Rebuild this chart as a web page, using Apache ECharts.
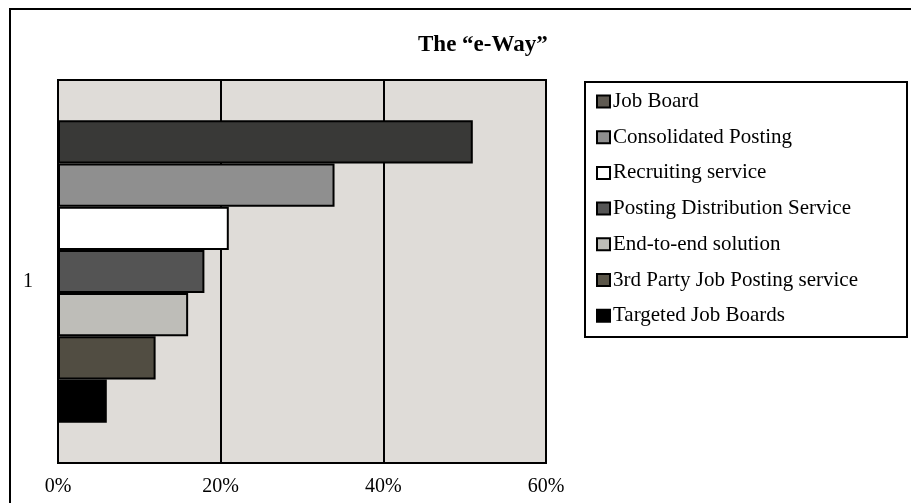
<!DOCTYPE html>
<html>
<head>
<meta charset="utf-8">
<title>The “e-Way”</title>
<script src="https://cdn.jsdelivr.net/npm/echarts@6/dist/echarts.min.js"></script>
<style>
  html, body { margin: 0; padding: 0; background: #ffffff; }
  #chart { width: 911px; height: 503px; }
</style>
</head>
<body>
<div id="chart"></div>
<script>
// Share of postings by channel (percent)
const categories = ['1'];
const seriesNames = [
  'Job Board',
  'Consolidated Posting',
  'Recruiting service',
  'Posting Distribution Service',
  'End-to-end solution',
  '3rd Party Job Posting service',
  'Targeted Job Boards'
];
const seriesValues = [51, 34, 21, 18, 16, 12, 6];
const xTicks = [0, 20, 40, 60];

// Bar fills and the slightly different legend swatch fills
const barColors = ['#393937', '#8f8f8f', '#ffffff', '#545454', '#bebdb8', '#514d42', '#000000'];
const swatchColors = ['#5f5a52', '#8f8f8f', '#ffffff', '#555555', '#bdbdb8', '#5a5548', '#000000'];

const FONT = "'Liberation Serif', 'Times New Roman', serif";

const chart = echarts.init(document.getElementById('chart'), null, { renderer: 'canvas' });

const series = seriesNames.map((name, i) => ({
  name: name,
  type: 'bar',
  data: [seriesValues[i]],
  barGap: '0%',
  barCategoryGap: '21%',
  itemStyle: {
    color: barColors[i],
    borderColor: '#000000',
    borderWidth: i === seriesNames.length - 1 ? 0 : 2
  },
  emphasis: { disabled: true }
}));

chart.setOption({
  backgroundColor: '#ffffff',
  animation: false,
  title: {
    text: 'The “e-Way”',
    left: 418,
    top: 34,
    padding: 0,
    textStyle: { fontFamily: FONT, fontSize: 23, fontWeight: 'bold', color: '#000000' }
  },
  graphic: [
    // outer chart frame
    {
      type: 'rect',
      shape: { x: 10, y: 9, width: 1000, height: 600 },
      style: { fill: 'none', stroke: '#000000', lineWidth: 2 },
      silent: true,
      z: 0
    },
    // legend frame
    {
      type: 'rect',
      shape: { x: 585, y: 82, width: 322, height: 255 },
      style: { fill: '#ffffff', stroke: '#000000', lineWidth: 2 },
      silent: true,
      z: 0
    }
  ],
  legend: {
    orient: 'vertical',
    left: 596,
    top: 91,
    padding: 0,
    itemGap: 14.7,
    itemWidth: 13,
    itemHeight: 12,
    icon: 'rect',
    selectedMode: false,
    data: seriesNames.map((name, i) => ({
      name: name,
      itemStyle: { color: swatchColors[i], borderColor: '#000000', borderWidth: 2 }
    })),
    textStyle: { fontFamily: FONT, fontSize: 21, lineHeight: 21, color: '#000000', padding: [0, 0, 0, -2] },
    z: 5
  },
  grid: {
    left: 58,
    right: 365,
    top: 80,
    bottom: 40,
    show: true,
    backgroundColor: '#dfdcd8',
    borderColor: '#000000',
    borderWidth: 2,
    containLabel: false
  },
  xAxis: {
    type: 'value',
    min: xTicks[0],
    max: xTicks[xTicks.length - 1],
    interval: xTicks[1] - xTicks[0],
    axisLine: { show: false },
    axisTick: { show: false },
    splitLine: { show: true, lineStyle: { color: '#000000', width: 2 } },
    axisLabel: {
      margin: 14,
      fontFamily: FONT,
      fontSize: 20,
      color: '#000000',
      formatter: v => v + '%'
    }
  },
  yAxis: {
    type: 'category',
    data: categories,
    inverse: true,
    axisLine: { show: true, lineStyle: { color: '#000000', width: 2 } },
    axisTick: { show: false },
    axisLabel: {
      margin: 25,
      fontFamily: FONT,
      fontSize: 20,
      color: '#000000',
      verticalAlign: 'top'
    }
  },
  series: series
});
</script>
</body>
</html>
